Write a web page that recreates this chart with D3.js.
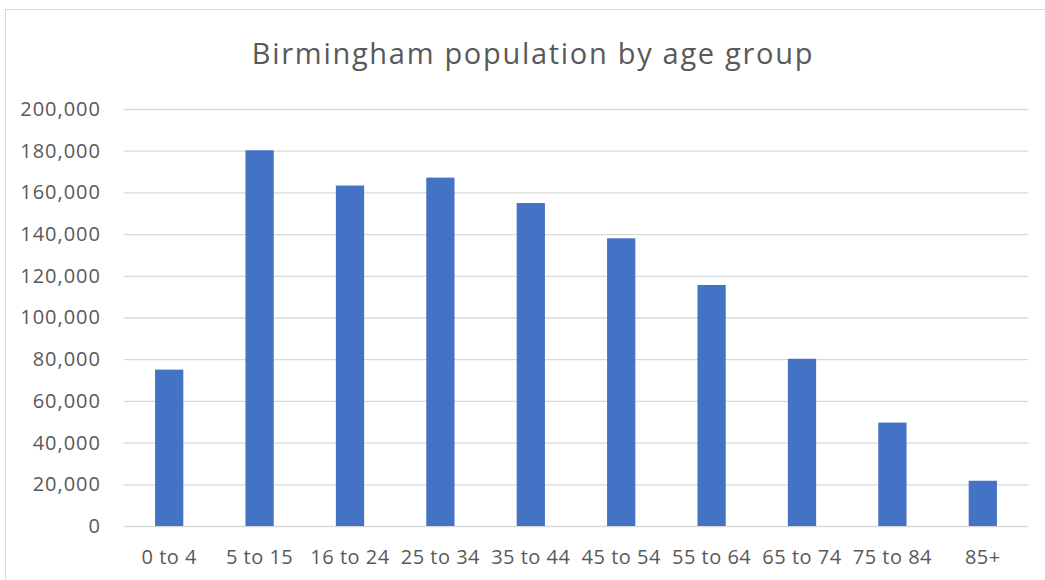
<!DOCTYPE html>
<html>
<head>
<meta charset="utf-8">
<script src="https://cdn.jsdelivr.net/npm/d3@7"></script>
<style>
    body { margin: 0; background: #fff; }
    text { font-family: "Open Sans", "Noto Sans", sans-serif; }
</style>
</head>
<body>
<div id="canvas"></div>
<script>
"use strict";

/* -------------------- Data -------------------- */

let ageGroups = ["0 to 4", "5 to 15", "16 to 24", "25 to 34", "35 to 44",
    "45 to 54", "55 to 64", "65 to 74", "75 to 84", "85+"];
let population = [75000, 180200, 163300, 167100, 154900,
    138000, 115600, 80200, 49600, 21700];
let yTicks = [0, 20000, 40000, 60000, 80000, 100000, 120000, 140000, 160000, 180000, 200000];

/* -------------------- Layout -------------------- */

let svgWidth = 1045;
let svgHeight = 580;
let plotLeft = 124;
let plotRight = 1028;
let plotTop = 109;
let plotBottom = 526;
let textColor = "#595959";
let gridColor = "#d9d9d9";

let svg = d3.select("#canvas")
    .append("svg")
    .attr("width", svgWidth)
    .attr("height", svgHeight);

/* chart frame */
svg.append("rect")
    .attr("x", 5.5)
    .attr("y", 9.5)
    .attr("width", svgWidth + 10)
    .attr("height", svgHeight + 10)
    .attr("fill", "#fff")
    .attr("stroke", gridColor);

/* -------------------- Scales -------------------- */

let xScale = d3.scaleBand()
    .domain(ageGroups)
    .range([plotLeft, plotRight])
    .paddingInner(0.6875)
    .paddingOuter(0.34375);

let yScale = d3.scaleLinear()
    .domain([0, 200000])
    .range([plotBottom, plotTop]);

/* -------------------- Axes -------------------- */

let yAxis = svg.append("g")
    .attr("transform", "translate(" + plotLeft + ",0)")
    .call(d3.axisLeft(yScale)
        .tickValues(yTicks)
        .tickSize(-(plotRight - plotLeft))
        .tickPadding(23)
        .tickFormat(d3.format(",")));

yAxis.select(".domain").remove();
yAxis.selectAll(".tick line")
    .attr("stroke", gridColor)
    .attr("stroke-width", 1.3);
yAxis.selectAll(".tick text")
    .attr("fill", textColor)
    .style("font-size", "20px")
    .style("letter-spacing", "1px");

let xAxis = svg.append("g")
    .attr("transform", "translate(0," + plotBottom + ")")
    .call(d3.axisBottom(xScale)
        .tickSize(0)
        .tickPadding(24));

xAxis.select(".domain").remove();
xAxis.selectAll(".tick text")
    .attr("fill", textColor)
    .style("font-size", "20px")
    .style("letter-spacing", "0.5px");

/* -------------------- Bars -------------------- */

svg.selectAll("rect.bar")
    .data(population)
    .join("rect")
    .attr("class", "bar")
    .attr("x", function (d, i) {
        return xScale(ageGroups[i]);
    })
    .attr("y", function (d) {
        return yScale(d);
    })
    .attr("width", xScale.bandwidth())
    .attr("height", function (d) {
        return plotBottom - yScale(d);
    })
    .attr("fill", "#4472c4");

/* -------------------- Title -------------------- */

svg.append("text")
    .attr("x", 533)
    .attr("y", 64)
    .attr("text-anchor", "middle")
    .attr("fill", textColor)
    .style("font-size", "29px")
    .style("letter-spacing", "1.7px")
    .text("Birmingham population by age group");
</script>
</body>
</html>
